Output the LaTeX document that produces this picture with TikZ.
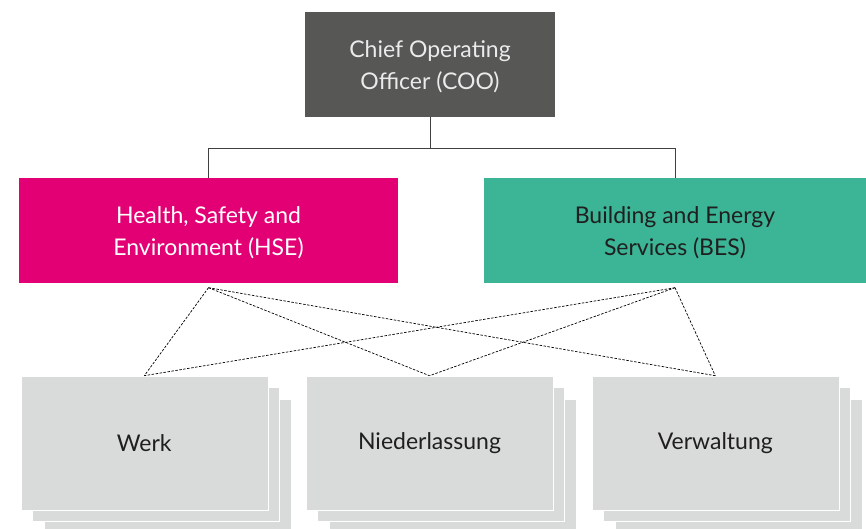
\documentclass[tikz,border=0pt]{standalone}
\usepackage{fontspec}
\setmainfont{Lato}
\definecolor{coograu}{HTML}{575756}
\definecolor{hsemagenta}{HTML}{E20074}
\definecolor{besgruen}{HTML}{3CB496}
\definecolor{standortgrau}{HTML}{D9DADA}
\begin{document}
\begin{tikzpicture}[x=1pt, y=-1pt, font=\fontsize{23}{32}\selectfont,
    leitung/.style={rectangle, inner sep=0pt, align=center, minimum height=105pt,
      text height=56pt, text depth=5.7pt},
    standort/.style={rectangle, fill=standortgrau, draw=white, line width=0.6pt,
      inner sep=0pt, minimum width=247pt, minimum height=134pt, text=black!88},
    linie/.style={line width=0.9pt, black!75},
    verbindung/.style={line width=0.7pt, dash pattern=on 2.5pt off 1.5pt}]
    \useasboundingbox (0,0) rectangle (866,528);

    % Leitung
    \node[leitung, fill=coograu, text=white!92!black, minimum width=250pt]
      (coo) at (430,64.5) {Chief Operating\\Officer (COO)};
    \node[leitung, fill=hsemagenta, text=white, minimum width=379pt]
      (hse) at (208.5,230.5) {Health, Safety and\\Environment (HSE)};
    \node[leitung, fill=besgruen, text=black!88, minimum width=382pt]
      (bes) at (675,230.5) {Building and Energy\\Services (BES)};

    % Linien
    \draw[linie] (coo.south) -- ++(0,31) coordinate (knoten) -| (hse.north);
    \draw[linie] (knoten) -| (bes.north);

    % Standorte (gestapelt)
    \foreach \n/\x/\t in {werk/144.3/Werk, nl/429.5/Niederlassung, vw/715.3/Verwaltung}
      {
        \node[standort] (\n-3) at (\x+23,466) {};
        \node[standort] (\n-2) at (\x+11.5,454.5) {};
        \node[standort] (\n) at (\x,443) {\t};
      }

    % gestrichelte Verbindungen
    \coordinate (hse-fuss) at ([yshift=-4.5pt]hse.south);
    \coordinate (bes-fuss) at ([yshift=-4.5pt]bes.south);
    \foreach \o in {hse-fuss, bes-fuss}
      \foreach \u in {werk, nl, vw}
        \draw[verbindung] (\o) -- (\u.north);

  \end{tikzpicture}
\end{document}
